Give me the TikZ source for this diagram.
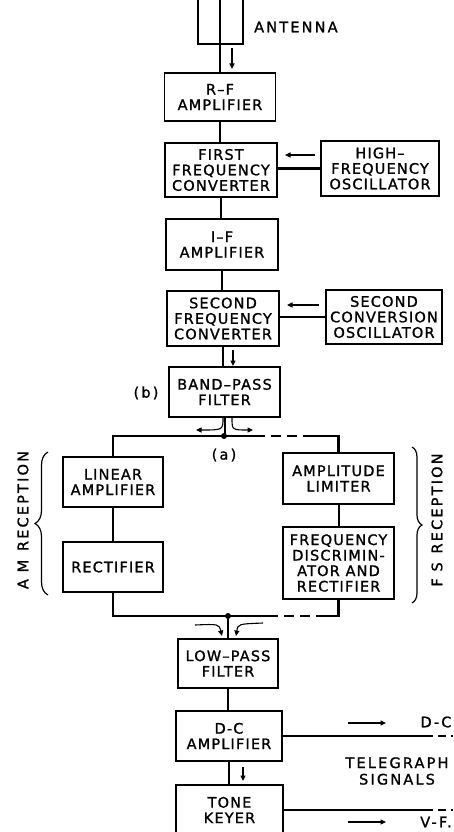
\documentclass[tikz,border=0pt]{standalone}
\usepackage{fontspec}
\setmainfont{DejaVu Sans}[LetterSpace=8,FakeBold=1.2]
\usetikzlibrary{positioning,arrows.meta,decorations.pathreplacing}

\tikzset{
  blk/.style={draw, line width=1.2pt, align=center, inner sep=0pt,
    font=\fontsize{14.5}{15.5}\selectfont},
  lbl/.style={align=center, inner sep=0pt,
    font=\fontsize{14.5}{16.5}\selectfont\addfontfeature{LetterSpace=15}},
  wire/.style={line width=2pt},
  bus/.style={line width=2.8pt},
  sig/.style={line width=1.1pt, -{Triangle[length=5.5pt,width=5pt]}},
  dashbus/.style={bus, dash pattern=on 10pt off 6pt},
  brc/.style={line width=1.2pt, decorate},
}

\begin{document}
\begin{tikzpicture}[x=1pt,y=-1pt]
  \clip (0,0) rectangle (453,832);

  % Blocks
  \node[blk, minimum width=111pt, minimum height=48pt] (rfamp) at (220,97) {R–F\\AMPLIFIER};
  \node[blk, minimum width=112pt, minimum height=54pt] (conv1) at (221,170) {FIRST\\FREQUENCY\\CONVERTER};
  \node[blk, minimum width=118pt, minimum height=55pt] (hfosc) at (380,168.5) {HIGH–\\FREQUENCY\\OSCILLATOR};
  \node[blk, minimum width=112pt, minimum height=51pt] (ifamp) at (222,244.5) {I–F\\AMPLIFIER};
  \node[blk, minimum width=112pt, minimum height=55pt] (conv2) at (223,318.5) {SECOND\\FREQUENCY\\CONVERTER};
  \node[blk, minimum width=116pt, minimum height=54pt] (scosc) at (384,317) {SECOND\\CONVERSION\\OSCILLATOR};
  \node[blk, minimum width=111pt, minimum height=50pt] (bpf) at (224.5,392) {BAND–PASS\\FILTER};
  \node[blk, minimum width=100pt, minimum height=50pt] (linamp) at (113,482) {LINEAR\\AMPLIFIER};
  \node[blk, minimum width=100pt, minimum height=50pt] (rect) at (113,567) {RECTIFIER};
  \node[blk, minimum width=111pt, minimum height=51pt] (amplim) at (338.5,478.5) {AMPLITUDE\\LIMITER};
  \node[blk, minimum width=111pt, minimum height=72pt] (fdisc) at (338.5,563) {FREQUENCY\\DISCRIMIN-\\ATOR AND\\RECTIFIER};
  \node[blk, minimum width=100pt, minimum height=49pt] (lpf) at (228,663.5) {LOW–PASS\\FILTER};
  \node[blk, minimum width=106pt, minimum height=50pt] (dcamp) at (229,736) {D-C\\AMPLIFIER};
  \node[blk, minimum width=107pt, minimum height=50pt] (tone) at (229.5,810) {TONE\\KEYER};

  % Antenna
  \coordinate (ant) at (220,0);
  \draw[wire] (198,0) -- (198,44) -- (243,44) -- (243,0);
  \draw[wire] (ant) -- (rfamp.north);
  \node[lbl, anchor=west] (antlbl) at (254,27) {ANTENNA};
  \draw[sig] (232,48) -- (232,69);

  % Main chain
  \draw[wire] (rfamp.south) -- (rfamp.south |- conv1.north);
  \draw[wire] (conv1.south) -- (conv1.south |- ifamp.north);
  \draw[wire] (ifamp.south) -- (ifamp.south |- conv2.north);
  \draw[wire] (conv2.south) -- (conv2.south |- bpf.north);
  \draw[sig] (233,350) -- (233,366);

  % Oscillators
  \draw[bus] (hfosc.west) -- (conv1.east |- hfosc.west);
  \draw[sig] (315,155) -- (285,155);
  \draw[bus] (scosc.west) -- (conv2.east |- scosc.west);
  \draw[sig] (319,305) -- (287,305);

  % Branch (a)
  \coordinate (ja) at (224,436);
  \coordinate (da1) at (255,436);
  \coordinate (da2) at (303,436);
  \draw[wire] (bpf.south) -- (bpf.south |- ja);
  \draw[bus] (linamp.north) -- (linamp.north |- ja) -- (da1);
  \draw[dashbus] (da1) -- (da2);
  \draw[bus] (da2) -- (amplim.north |- ja) -- (amplim.north);
  \fill (ja) circle (3pt);
  \draw[sig] (223,418) .. controls (223,430) .. (196,430);
  \draw[sig] (232,418) .. controls (232,430) .. (253,430);
  \node[lbl] (blbl) at (146,393) {(b)};
  \node[lbl] (albl) at (224,455) {(a)};

  % AM and FS paths
  \draw[wire] (linamp.south) -- (rect.north);
  \draw[wire] (amplim.south) -- (fdisc.north);
  \coordinate (jb) at (228,616);
  \coordinate (db1) at (268,616);
  \coordinate (db2) at (316,616);
  \draw[bus] (rect.south) -- (rect.south |- jb) -- (db1);
  \draw[dashbus] (db1) -- (db2);
  \draw[bus] (db2) -- (fdisc.south |- jb) -- (fdisc.south);
  \fill (jb) circle (3pt);
  \draw[wire] (jb) -- (jb |- lpf.north);
  \draw[sig] (195,625) .. controls (219,624) .. (222,636);
  \draw[sig] (263,623) .. controls (238,624) .. (236,636);

  % Braces
  \draw[brc, decoration={brace, amplitude=13pt}] (48,595) -- (48,452);
  \node[lbl, rotate=90] (amlbl) at (23,520) {A M\hspace{2pt} RECEPTION};
  \draw[brc, decoration={brace, amplitude=10pt}] (412,447) -- (412,603);
  \node[lbl, rotate=90] (fslbl) at (437,520) {F S\hspace{2pt} RECEPTION};

  % Output
  \draw[wire] (lpf.south) -- (lpf.south |- dcamp.north);
  \draw[wire] (dcamp.south) -- (dcamp.south |- tone.north);
  \draw[sig] (243,767) -- (243,781);
  \coordinate (dcend) at (425,736);
  \coordinate (vfend) at (425,810);
  \draw[bus] (dcamp.east) -- (dcend);
  \draw[bus, dash pattern=on 8pt off 5pt] (dcend) -- (453,736);
  \draw[bus] (tone.east) -- (vfend);
  \draw[bus, dash pattern=on 8pt off 5pt] (vfend) -- (453,810);
  \draw[sig] (348,723) -- (386,723);
  \draw[sig] (348,822) -- (386,822);
  \node[lbl] (dclbl) at (436,722) {D-C};
  \node[lbl] (vflbl) at (436,822) {V-F.};
  \node[lbl] (tglbl) at (397,771) {TELEGRAPH\\SIGNALS};
\end{tikzpicture}
\end{document}
